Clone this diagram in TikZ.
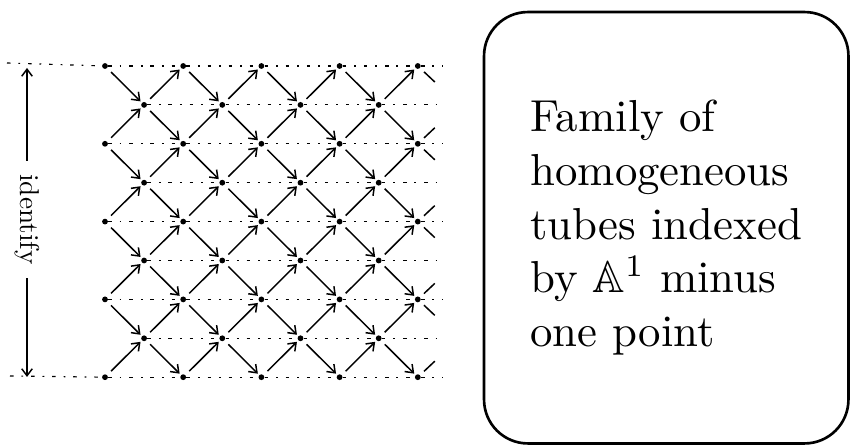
\documentclass[tikz,border=0pt]{standalone}
\usepackage{amsmath, amssymb}
\usetikzlibrary{positioning,arrows.meta,calc}

\begin{document}
\begin{tikzpicture}[
    x=0.02cm,
    y=-0.02cm,
    >={Straight Barb[length=4pt,width=6pt]},
    dot/.style={
        circle,
        fill,
        inner sep=0pt,
        minimum size=3.3pt
    },
    mesh/.style={
        draw,
        ->,
        line width=0.85pt,
        shorten <=3pt,
        shorten >=1pt
    },
    stub/.style={
        draw,
        line width=0.85pt,
        shorten <=3pt
    },
    tau/.style={
        draw,
        line width=0.65pt,
        dash pattern=on 2pt off 4.5pt on 1pt off 4.5pt
    },
    panel/.style={
        draw,
        rounded corners=25pt,
        line width=1.5pt,
        minimum width=7.29cm,
        minimum height=8.63cm
    }
]
    \useasboundingbox (0,0) rectangle (850,445);

    % vertices of the tube
    \foreach \i in {0,2,4,6,8}
        \foreach \j in {0,2,4,6,8}
            \node[dot] (v-\i-\j) at ({105+39.1*\i},{66+38.9*\j}) {};
    \foreach \i in {1,3,5,7}
        \foreach \j in {1,3,5,7}
            \node[dot] (v-\i-\j) at ({105+39.1*\i},{66+38.9*\j}) {};

    % free ends of the rows
    \coordinate (l-0) at (7,63);
    \coordinate (l-8) at (10,376);
    \foreach \j in {0,2,4,6,8}
        \coordinate (r-\j) at (443,{66+38.9*\j});
    \foreach \j in {1,3,5,7}
        \coordinate (r-\j) at (437,{66+38.9*\j});

    % translation rows
    \path[tau] (l-0) -- (v-0-0);
    \path[tau] (l-8) -- (v-0-8);
    \foreach \j in {0,2,4,6,8}
        \path[tau] (v-0-\j) -- (v-2-\j) -- (v-4-\j) -- (v-6-\j) -- (v-8-\j) -- (r-\j);
    \foreach \j in {1,3,5,7}
        \path[tau] (v-1-\j) -- (v-3-\j) -- (v-5-\j) -- (v-7-\j) -- (r-\j);

    % irreducible maps
    \foreach \i in {0,2,4,6} {
        \pgfmathtruncatemacro{\k}{\i+1}
        \foreach \j in {0,2,4,6} {
            \pgfmathtruncatemacro{\jdn}{\j+1}
            \path[mesh] (v-\i-\j) -- (v-\k-\jdn);
        }
        \foreach \j in {2,4,6,8} {
            \pgfmathtruncatemacro{\jup}{\j-1}
            \path[mesh] (v-\i-\j) -- (v-\k-\jup);
        }
    }
    \foreach \i in {1,3,5,7} {
        \pgfmathtruncatemacro{\k}{\i+1}
        \foreach \j in {1,3,5,7} {
            \pgfmathtruncatemacro{\jdn}{\j+1}
            \pgfmathtruncatemacro{\jup}{\j-1}
            \path[mesh] (v-\i-\j) -- (v-\k-\jdn);
            \path[mesh] (v-\i-\j) -- (v-\k-\jup);
        }
    }

    % cut-off maps at the right edge
    \foreach \j in {0,2,4,6} {
        \coordinate (sd-\j) at ({105+39.1*8+17},{66+38.9*\j+16});
        \path[stub] (v-8-\j) -- (sd-\j);
    }
    \foreach \j in {2,4,6,8} {
        \coordinate (su-\j) at ({105+39.1*8+17},{66+38.9*\j-16});
        \path[stub] (v-8-\j) -- (su-\j);
    }

    % identification of top and bottom rows
    \coordinate (id-top) at (27,68);
    \coordinate (id-bot) at (27,377);
    \draw[<->, line width=0.85pt] (id-top) -- node[pos=0.49, fill=white, rotate=-90, scale=1.55, inner sep=5pt] (idlabel) {identify} (id-bot);

    % text panel
    \node[panel] (box) at (666.25,227.75) {};
    \node[align=left, scale=2.55] (blurb) at (box.center) {Family of\\homogeneous\\tubes indexed\\by $\mathbb{A}^1$ minus\\one point};
\end{tikzpicture}
\end{document}
